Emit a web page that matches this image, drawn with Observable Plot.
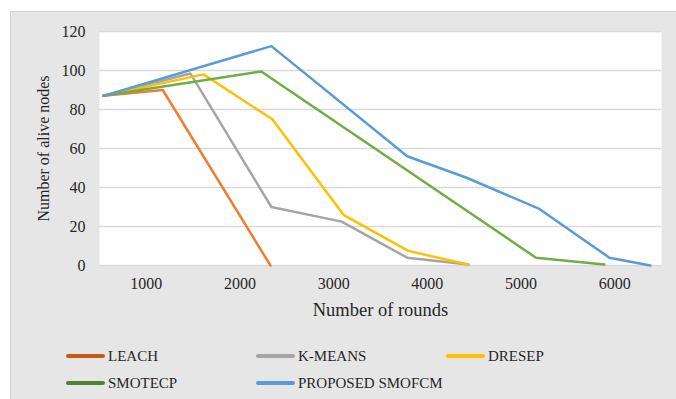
<!DOCTYPE html>
<html><head><meta charset="utf-8">
<script src="https://cdn.jsdelivr.net/npm/d3@7"></script>
<script src="https://cdn.jsdelivr.net/npm/@observablehq/plot@0.6"></script>
<style>
body{margin:0;background:#fff;width:676px;height:399px;overflow:hidden;position:relative;font-family:'Liberation Serif'}
#panel{position:absolute;left:10px;top:11px;width:666px;height:388px;background:#e6e6e6;box-shadow:inset 1px 1px 0 #d2d2d2}
#chart{position:absolute;left:0;top:0}
#chart svg text{font-family:'Liberation Serif'}
.item{position:absolute;height:20px;display:flex;align-items:center;font-size:15px;color:#262626;white-space:nowrap;font-family:'Liberation Serif'}
.sw{width:39px;height:4px;border-radius:2px;margin-right:3px}
</style>
</head><body>
<div id="panel"><div id="chart"></div></div>
<div id="legend"></div>
<script>
// Series names and colours
const series = ["LEACH", "K-MEANS", "DRESEP", "SMOTECP", "PROPOSED SMOFCM"];
const colors = ["#ed7d31", "#a5a5a5", "#ffc000", "#70ad47", "#5b9bd5"];
const legendColors = ["#c55a11", "#a5a5a5", "#ffc000", "#548235", "#5b9bd5"];

// Values (rounds, alive nodes)
const leachX = [540, 1175, 2325];
const leachY = [87, 90, 0];
const kmeansX = [540, 1470, 2335, 3085, 3785, 4440];
const kmeansY = [87, 98.5, 30, 22.5, 4, 0.5];
const dresepX = [540, 1610, 2345, 3105, 3795, 4435];
const dresepY = [87, 98, 75, 26, 7.5, 0.5];
const smotecpX = [540, 2227, 5160, 5890];
const smotecpY = [87, 99.5, 4, 0.5];
const proposedX = [540, 2335, 3785, 4420, 5196, 5944, 6380];
const proposedY = [87, 112.5, 56, 45, 29, 4, 0];

// Tick labels and titles
const xTicks = [1000, 2000, 3000, 4000, 5000, 6000];
const yTicks = [0, 20, 40, 60, 80, 100, 120];
const xTitle = "Number of rounds";
const yTitle = "Number of alive nodes";

const xs = [leachX, kmeansX, dresepX, smotecpX, proposedX];
const ys = [leachY, kmeansY, dresepY, smotecpY, proposedY];
const data = series.flatMap((s, i) => xs[i].map((x, j) => ({series: s, x, y: ys[i][j]})));

const chart = Plot.plot({
  width: 666, height: 320,
  marginLeft: 89, marginRight: 15, marginTop: 20, marginBottom: 66,
  style: {background: "transparent", fontFamily: "Liberation Serif", fontSize: "16px", color: "#262626"},
  x: {domain: [500, 6500]},
  y: {domain: [0, 120]},
  color: {domain: series, range: colors},
  marks: [
    Plot.frame({fill: "white", stroke: "none"}),
    Plot.gridY(yTicks, {stroke: "#d9d9d9", strokeOpacity: 1, strokeWidth: 1.5}),
    Plot.axisX(xTicks, {tickSize: 0, tickPadding: 12, tickFormat: d3.format("d"), label: null, fontSize: 16}),
    Plot.text([xTitle], {frameAnchor: "bottom", dy: 45, lineAnchor: "middle", fontSize: 18.5, fill: "#262626"}),
    Plot.axisY(yTicks, {tickSize: 0, tickPadding: 14, label: yTitle, labelAnchor: "center", labelOffset: 62, labelArrow: "none", fontSize: 16}),
    Plot.line(data, {x: "x", y: "y", z: "series", stroke: "series", strokeWidth: 2.5})
  ]
});
document.getElementById("chart").append(chart);

// HTML legend below the chart (two rows, three columns)
const legendPos = [[66, 346], [256, 346], [446, 346], [66, 373], [256, 373]];
const legend = document.getElementById("legend");
series.forEach((s, i) => {
  const it = document.createElement("div");
  it.className = "item";
  it.style.left = legendPos[i][0] + "px";
  it.style.top = legendPos[i][1] + "px";
  const sw = document.createElement("div");
  sw.className = "sw";
  sw.style.background = legendColors[i];
  const t = document.createElement("span");
  t.textContent = s;
  it.append(sw, t);
  legend.append(it);
});
</script>
</body></html>
